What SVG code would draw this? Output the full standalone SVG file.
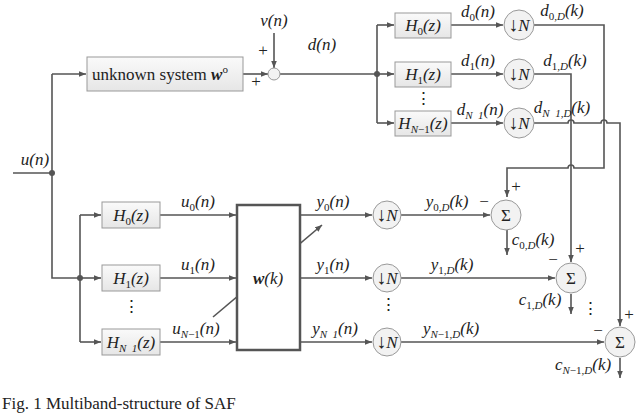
<svg xmlns="http://www.w3.org/2000/svg" width="640" height="415" viewBox="0 0 640 415" font-family="'Liberation Serif','Times New Roman','DejaVu Serif',serif">
<style>
.ln{fill:none;stroke:#555;stroke-width:1.6}
.bx{fill:url(#g);stroke:#999;stroke-width:1}
.ci{fill:#f2f2f2;stroke:#999;stroke-width:1}
text{font-family:'Liberation Serif','Times New Roman','DejaVu Serif',serif;font-size:17px;fill:#222}
.i{font-style:italic}
.s{font-size:11px;font-style:normal}
.si{font-size:11px;font-style:italic}
.c{text-anchor:middle}
.ar{font-size:20px;font-style:normal}
</style>
<defs>
<linearGradient id="g" x1="0" y1="0" x2="0" y2="1"><stop offset="0" stop-color="#fafafa"/><stop offset="1" stop-color="#e6e6e6"/></linearGradient>
<marker id="a" viewBox="0 0 10 10" refX="10" refY="5" markerWidth="7" markerHeight="7" orient="auto" markerUnits="userSpaceOnUse"><path d="M0,1 L10,5 L0,9 z" fill="#555"/></marker>
</defs>
<g id="connectors">
<path class="ln" d="M13,173 H52 M52,74 V278 H80 M80,215 V342"/>
<path class="ln" d="M52,74 H86" marker-end="url(#a)"/>
<path class="ln" d="M243,74 H268" marker-end="url(#a)"/>
<path class="ln" d="M274,33 V68" marker-end="url(#a)"/>
<path class="ln" d="M280,74 H377 M377,25 V123"/>
<path class="ln" d="M377,25 H394" marker-end="url(#a)"/>
<path class="ln" d="M377,74 H394" marker-end="url(#a)"/>
<path class="ln" d="M377,123 H394" marker-end="url(#a)"/>
<path class="ln" d="M451,25 H503" marker-end="url(#a)"/>
<path class="ln" d="M451,74 H503" marker-end="url(#a)"/>
<path class="ln" d="M451,123 H503" marker-end="url(#a)"/>
<path class="ln" d="M534,25 H604 V168 H574 a3,3 0 0 0 -6,0 H507 V197" marker-end="url(#a)"/>
<path class="ln" d="M534,74 H571 V262" marker-end="url(#a)"/>
<path class="ln" d="M534,123 H568 a3,3 0 0 1 6,0 H601 a3,3 0 0 1 6,0 H620 V326" marker-end="url(#a)"/>
<circle cx="52" cy="173" r="3" fill="#555"/>
<circle cx="80" cy="278" r="3" fill="#555"/>
<circle cx="377" cy="74" r="3" fill="#555"/>
<path class="ln" d="M80,215 H101" marker-end="url(#a)"/>
<path class="ln" d="M80,278 H101" marker-end="url(#a)"/>
<path class="ln" d="M80,342 H101" marker-end="url(#a)"/>
<path class="ln" d="M160,215 H236" marker-end="url(#a)"/>
<path class="ln" d="M160,278 H236" marker-end="url(#a)"/>
<path class="ln" d="M160,342 H236" marker-end="url(#a)"/>
<path class="ln" d="M300,215 H372" marker-end="url(#a)"/>
<path class="ln" d="M300,278 H372" marker-end="url(#a)"/>
<path class="ln" d="M300,342 H372" marker-end="url(#a)"/>
<path class="ln" d="M401,215 H490" marker-end="url(#a)"/>
<path class="ln" d="M401,278 H555" marker-end="url(#a)"/>
<path class="ln" d="M401,342 H604" marker-end="url(#a)"/>
<path class="ln" d="M507,229 V255" marker-end="url(#a)"/>
<path class="ln" d="M571,294 V314" marker-end="url(#a)"/>
<path class="ln" d="M620,358 V378" marker-end="url(#a)"/>
<path class="ln" d="M213,317 L322,225" marker-end="url(#a)"/>
</g>
<g id="unknown"><rect class="bx" x="87" y="57" width="156" height="34"/><text x="160" y="80" class="c">unknown system  <tspan class="i" font-weight="bold">w</tspan><tspan class="s" dy="-7">o</tspan></text></g>
<g id="sumTop"><circle class="ci" cx="274" cy="74" r="6"/><text x="263" y="56" class="c" font-size="15">+</text><text x="256" y="87" class="c" font-size="15">+</text><text x="274" y="26" class="c i">v(n)</text></g>
<text x="322" y="50" class="c i">d(n)</text>
<text x="35" y="165" class="c i">u(n)</text>
<g id="H0t"><rect class="bx" x="395" y="13" width="56" height="25"/><text x="423" y="31" class="c i">H<tspan class="s" dy="4">0</tspan><tspan dy="-4">(z)</tspan></text></g>
<g id="H1t"><rect class="bx" x="395" y="62" width="56" height="25"/><text x="423" y="80" class="c i">H<tspan class="s" dy="4">1</tspan><tspan dy="-4">(z)</tspan></text></g>
<text x="423" y="104" class="c">⋮</text>
<g id="HNt"><rect class="bx" x="395" y="111" width="56" height="25"/><text x="423" y="129" class="c i">H<tspan class="si" dy="4">N</tspan><tspan class="s">−1</tspan><tspan dy="-4">(z)</tspan></text></g>
<g id="D0t"><circle class="ci" cx="519" cy="25" r="15"/><text x="519" y="31" class="c"><tspan class="ar">↓</tspan><tspan class="i">N</tspan></text></g>
<g id="D1t"><circle class="ci" cx="519" cy="74" r="15"/><text x="519" y="80" class="c"><tspan class="ar">↓</tspan><tspan class="i">N</tspan></text></g>
<g id="DNt"><circle class="ci" cx="519" cy="123" r="15"/><text x="519" y="129" class="c"><tspan class="ar">↓</tspan><tspan class="i">N</tspan></text></g>
<text x="478" y="17" class="c i">d<tspan class="s" dy="4">0</tspan><tspan dy="-4">(n)</tspan></text>
<text x="478" y="66" class="c i">d<tspan class="s" dy="4">1</tspan><tspan dy="-4">(n)</tspan></text>
<text x="480" y="115" class="c i">d<tspan class="si" dy="4">N&#160;&#160;1</tspan><tspan dy="-4">(n)</tspan></text>
<text x="562" y="16" class="c i">d<tspan class="s" dy="4">0,</tspan><tspan class="si">D</tspan><tspan dy="-4">(k)</tspan></text>
<text x="565" y="66" class="c i">d<tspan class="s" dy="4">1,</tspan><tspan class="si">D</tspan><tspan dy="-4">(k)</tspan></text>
<text x="562" y="113" class="c i">d<tspan class="si" dy="4">N&#160;&#160;1,D</tspan><tspan dy="-4">(k)</tspan></text>
<g id="H0b"><rect class="bx" x="102" y="202" width="58" height="26"/><text x="131" y="221" class="c i">H<tspan class="s" dy="4">0</tspan><tspan dy="-4">(z)</tspan></text></g>
<g id="H1b"><rect class="bx" x="102" y="265" width="58" height="26"/><text x="131" y="284" class="c i">H<tspan class="s" dy="4">1</tspan><tspan dy="-4">(z)</tspan></text></g>
<text x="131" y="312" class="c">⋮</text>
<g id="HNb"><rect class="bx" x="102" y="329" width="58" height="26"/><text x="131" y="348" class="c i">H<tspan class="si" dy="4">N&#160;&#160;1</tspan><tspan dy="-4">(z)</tspan></text></g>
<text x="198" y="207" class="c i">u<tspan class="s" dy="4">0</tspan><tspan dy="-4">(n)</tspan></text>
<text x="198" y="270" class="c i">u<tspan class="s" dy="4">1</tspan><tspan dy="-4">(n)</tspan></text>
<text x="196" y="334" class="c i">u<tspan class="si" dy="4">N</tspan><tspan class="s">−1</tspan><tspan dy="-4">(n)</tspan></text>
<g id="W"><rect x="237" y="205" width="63" height="145" fill="#fff" stroke="#555" stroke-width="2.5"/><text x="268" y="284" class="c i"><tspan font-weight="bold">w</tspan>(k)</text></g>
<text x="333" y="207" class="c i">y<tspan class="s" dy="4">0</tspan><tspan dy="-4">(n)</tspan></text>
<text x="333" y="270" class="c i">y<tspan class="s" dy="4">1</tspan><tspan dy="-4">(n)</tspan></text>
<text x="335" y="334" class="c i">y<tspan class="si" dy="4">N&#160;&#160;1</tspan><tspan dy="-4">(n)</tspan></text>
<g id="D0b"><circle class="ci" cx="387" cy="215" r="14"/><text x="387" y="221" class="c"><tspan class="ar">↓</tspan><tspan class="i">N</tspan></text></g>
<g id="D1b"><circle class="ci" cx="387" cy="278" r="14"/><text x="387" y="284" class="c"><tspan class="ar">↓</tspan><tspan class="i">N</tspan></text></g>
<text x="388" y="310" class="c">⋮</text>
<g id="DNb"><circle class="ci" cx="387" cy="342" r="14"/><text x="387" y="348" class="c"><tspan class="ar">↓</tspan><tspan class="i">N</tspan></text></g>
<text x="447" y="207" class="c i">y<tspan class="s" dy="4">0,</tspan><tspan class="si">D</tspan><tspan dy="-4">(k)</tspan></text>
<text x="452" y="270" class="c i">y<tspan class="s" dy="4">1,</tspan><tspan class="si">D</tspan><tspan dy="-4">(k)</tspan></text>
<text x="451" y="334" class="c i">y<tspan class="si" dy="4">N</tspan><tspan class="s">−1,</tspan><tspan class="si">D</tspan><tspan dy="-4">(k)</tspan></text>
<g id="S0"><circle class="ci" cx="506" cy="215" r="15"/><text x="506" y="221" class="c">Σ</text><text x="484" y="207" class="c" font-size="15">−</text><text x="516" y="192" class="c" font-size="15">+</text></g>
<g id="S1"><circle class="ci" cx="571" cy="278" r="15"/><text x="571" y="284" class="c">Σ</text><text x="553" y="265" class="c" font-size="15">−</text><text x="580" y="254" class="c" font-size="15">+</text></g>
<g id="S2"><circle class="ci" cx="620" cy="342" r="15"/><text x="620" y="348" class="c">Σ</text><text x="598" y="336" class="c" font-size="15">−</text><text x="629" y="320" class="c" font-size="15">+</text></g>
<text x="533" y="245" class="c i">c<tspan class="s" dy="4">0,</tspan><tspan class="si">D</tspan><tspan dy="-4">(k)</tspan></text>
<text x="540" y="305" class="c i">c<tspan class="s" dy="4">1,</tspan><tspan class="si">D</tspan><tspan dy="-4">(k)</tspan></text>
<text x="590" y="314" class="c">⋮</text>
<text x="583" y="370" class="c i">c<tspan class="si" dy="4">N</tspan><tspan class="s">−1,</tspan><tspan class="si">D</tspan><tspan dy="-4">(k)</tspan></text>
<text x="2" y="409" font-size="16">Fig. 1   Multiband-structure of SAF</text>
</svg>
